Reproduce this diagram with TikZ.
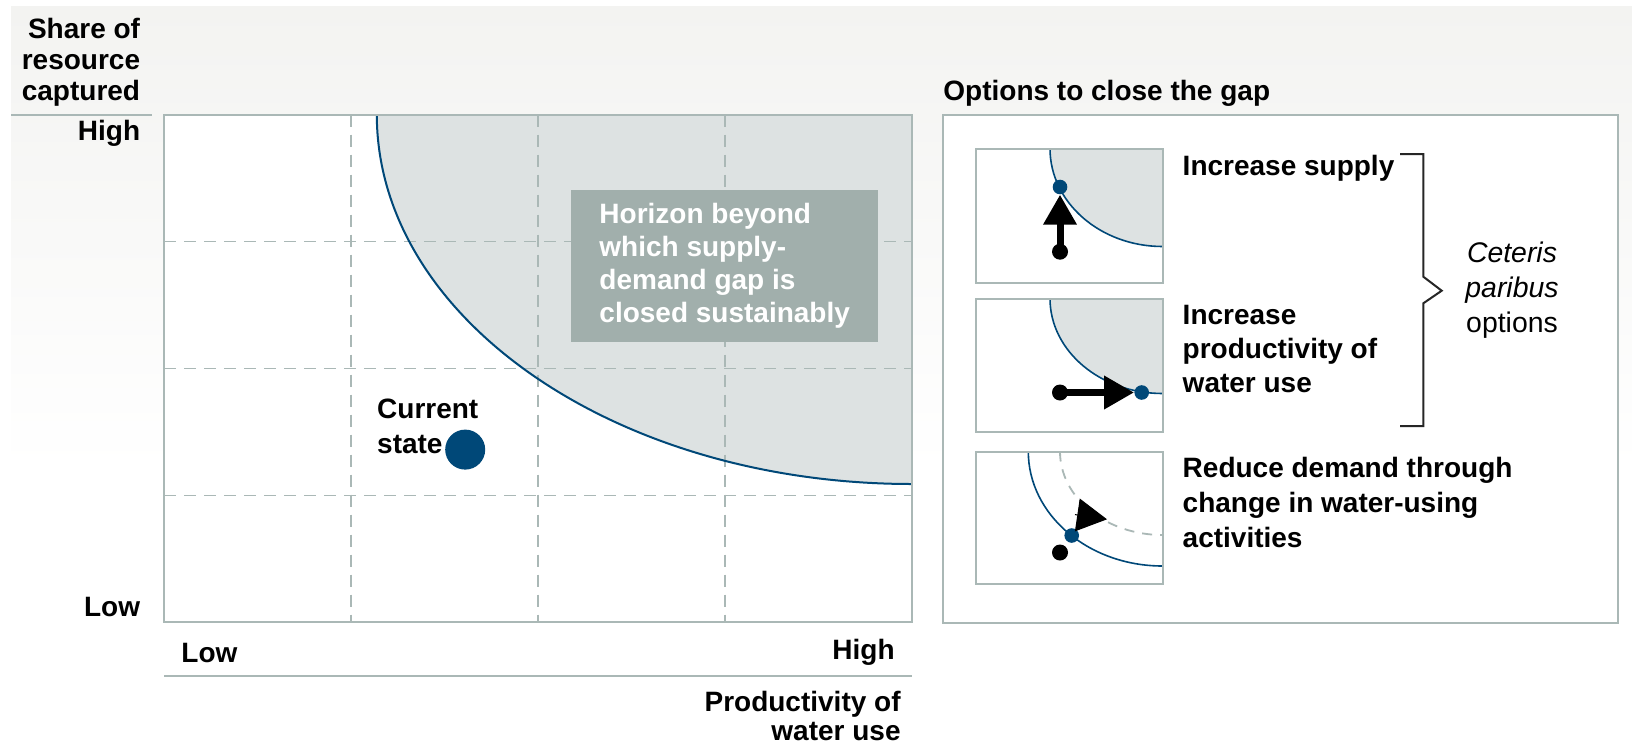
\documentclass[tikz,border=0pt]{standalone}
\usepackage{fontspec}
\setmainfont{Liberation Sans}
\usetikzlibrary{arrows.meta}
\definecolor{framegray}{RGB}{170,184,182}
\definecolor{horizon}{RGB}{221,226,226}
\definecolor{boxgray}{RGB}{161,175,172}
\definecolor{dblue}{RGB}{0,72,120}
\definecolor{bggray}{RGB}{243,243,241}
\begin{document}
\begin{tikzpicture}[x=0.5pt,y=-0.5pt,
  lbl/.style={font=\bfseries\fontsize{14}{17}\selectfont, text=black, inner sep=0pt},
  frame/.style={draw=framegray, line width=1pt},
  gridline/.style={draw=framegray, line width=0.8pt, dash pattern=on 6pt off 4pt},
  curve/.style={draw=dblue, line width=1pt},
  smallcurve/.style={draw=dblue, line width=0.8pt},
  bdot/.style={circle, fill=dblue, inner sep=0pt, minimum size=7.3pt},
  kdot/.style={circle, fill=black, inner sep=0pt, minimum size=8pt},
  fatarrow/.style={line width=3.5pt, -{Triangle[length=15pt,width=16pt]}}]
\useasboundingbox (0,0) rectangle (1632,744);
\fill[white] (0,0) rectangle (1632,744);
\shade[top color=bggray, bottom color=white] (11,6) rectangle (1632,470);

% ---------- main plot ----------
\fill[white] (164.4,114.5) rectangle (911.7,622.4);
\fill[horizon] (376.8,114.5) arc[start angle=180,end angle=90,x radius=535,y radius=369.5] -- (911.7,114.5) -- cycle;
\foreach \x in {351.2,538,724.9} \draw[gridline] (\x,114.5) -- (\x,622.4);
\foreach \y in {241.5,368.5,495.4} \draw[gridline] (164.4,\y) -- (911.7,\y);
\draw[curve] (376.8,114.5) arc[start angle=180,end angle=90,x radius=535,y radius=369.5];
\draw[frame] (164.4,114.5) rectangle (911.7,622.4);

\node[fill=boxgray, text=white, font=\bfseries\fontsize{14}{16.5}\selectfont, align=left,
      minimum width=153.5pt, minimum height=76pt, inner sep=0pt] (hz) at (724.7,266.2)
  {Horizon beyond\\which supply-\\demand gap is\\closed sustainably};

\node[circle, fill=dblue, minimum size=20pt, inner sep=0pt] (cur) at (465.2,449.6) {};
\node[lbl, font=\bfseries\fontsize{14}{17.5}\selectfont, align=left, anchor=west] (curlbl) at (376.8,426.7) {Current\\state};

% axis labels
\draw[framegray, line width=1pt] (11,114.5) -- (152,114.5);
\node[lbl, font=\bfseries\fontsize{14}{15.5}\selectfont, align=right, anchor=east] (ylab) at (140.5,62) {Share of\\resource\\captured};
\node[lbl, anchor=east] (yhigh) at (140.5,133) {High};
\node[lbl, anchor=east] (ylow) at (140.5,607) {Low};
\node[lbl, anchor=west] (xlow) at (181,652.6) {Low};
\node[lbl, anchor=east] (xhigh) at (895,652.6) {High};
\draw[framegray, line width=1pt] (164.4,675.5) -- (912,675.5);
\node[lbl, font=\bfseries\fontsize{14}{14.5}\selectfont, align=right, anchor=east] (xlab) at (901,716) {Productivity of\\water use};

% ---------- options panel ----------
\node[lbl, anchor=west] (opthead) at (943,93.7) {Options to close the gap};
\draw[frame, fill=white] (943,114.5) rectangle (1618.4,623.4);

% box 1
\fill[white] (976.3,148.5) rectangle (1162.6,283);
\fill[horizon] (1050,148.5) arc[start angle=180,end angle=90,x radius=112.6,y radius=98] -- (1162.6,148.5) -- cycle;
\draw[smallcurve] (1050,148.5) arc[start angle=180,end angle=90,x radius=112.6,y radius=98];
\draw[frame] (976.3,148.5) rectangle (1162.6,283);
\node[bdot] (u1) at (1060,187) {};
\node[kdot] (b1) at (1060,251.7) {};
\draw[fatarrow] (b1.center) -- (u1);

% box 2
\fill[white] (976.3,298.5) rectangle (1162.6,431.5);
\fill[horizon] (1050,298.5) arc[start angle=180,end angle=90,x radius=112.6,y radius=95] -- (1162.6,298.5) -- cycle;
\draw[smallcurve] (1050,298.5) arc[start angle=180,end angle=90,x radius=112.6,y radius=95];
\draw[frame] (976.3,298.5) rectangle (1162.6,431.5);
\node[bdot] (u2) at (1141.7,392.5) {};
\node[kdot] (b2) at (1060,392.5) {};
\draw[fatarrow] (b2.center) -- (u2);

% box 3
\fill[white] (976.3,451.5) rectangle (1162.6,584);
\draw[framegray, line width=0.9pt, dash pattern=on 5pt off 4pt] (1060,451.5) arc[start angle=180,end angle=90,x radius=102.6,y radius=83.5];
\draw[smallcurve] (1028.3,451.5) arc[start angle=180,end angle=90,x radius=134.3,y radius=114.5];
\draw[frame] (976.3,451.5) rectangle (1162.6,584);
\node[bdot] (u3) at (1071.7,535.5) {};
\node[kdot] (b3) at (1060,552.5) {};
\coordinate (m3) at (1075,514.6);
\coordinate (t3) at (1107,519.3);
\draw[line width=0.5pt, -{Triangle[length=15pt,width=16.5pt]}] (m3) -- (t3);

% option texts
\node[lbl, anchor=west] (o1) at (1182.3,168.6) {Increase supply};
\node[lbl, align=left, anchor=west] (o2) at (1182.3,348.7) {Increase\\productivity of\\water use};
\node[lbl, font=\bfseries\fontsize{14}{17.5}\selectfont, align=left, anchor=west] (o3) at (1182.3,502.3) {Reduce demand through\\change in water-using\\activities};

% bracket
\draw[black!85, line width=1pt] (1400,154) -- (1423.3,154) -- (1423.3,276.7) -- (1441.7,290.7) -- (1423.3,303.3) -- (1423.3,426) -- (1400,426);
\node[lbl, font=\fontsize{14.2}{17.5}\selectfont, align=center] (cp) at (1512,290) {\textit{Ceteris}\\\textit{paribus}\\options};
\end{tikzpicture}
\end{document}
